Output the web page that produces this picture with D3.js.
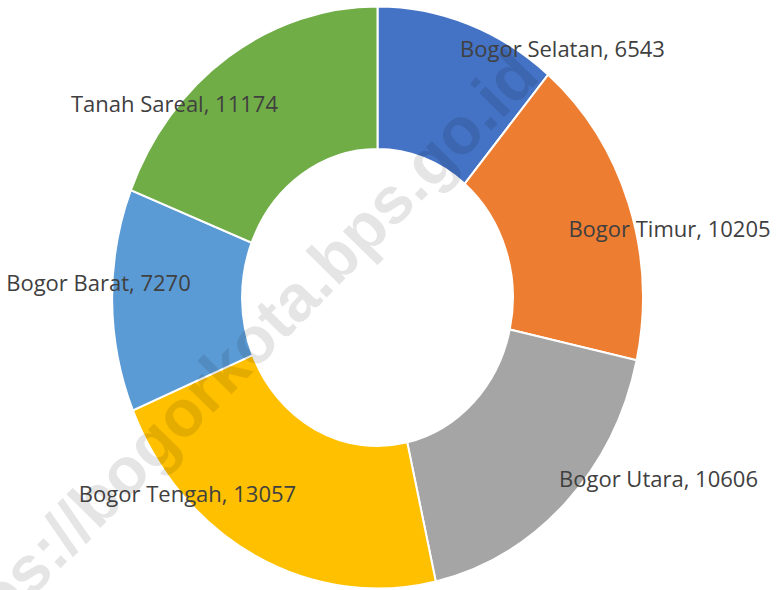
<!DOCTYPE html>
<html>
<head>
<meta charset="utf-8">
<script src="https://cdn.jsdelivr.net/npm/d3@7"></script>
<style>
  html, body { margin: 0; padding: 0; background: #fff; }
  svg { display: block; }
</style>
</head>
<body>
<div id="chart"></div>
<script>
// kecamatan di Kota Bogor, searah jarum jam dari atas
var districts = ['Bogor Selatan', 'Bogor Timur', 'Bogor Utara', 'Bogor Tengah', 'Bogor Barat', 'Tanah Sareal'];
var counts = [6543, 10205, 10606, 13057, 7270, 11174];
var colors = ['#4472C4', '#ED7D31', '#A5A5A5', '#FFC000', '#5B9BD5', '#70AD47'];

var w = 777;
var h = 590;
var cx = 377.5;
var cy = 297.5;
var rOuter = 291;
var rInner = 148.5;
var squeeze = 0.912; // the ring is a bit narrower than tall

// label spots, relative to the centre of the ring
var labelSpot = [[185, -241], [292, -61], [281, 189], [-190, 204], [-279, -7], [-203, -186]];

var svg = d3.select('#chart')
  .append('svg')
  .attr('width', w)
  .attr('height', h);

var pie = d3.pie().sort(null).value(function (d) { return d; });
var arc = d3.arc().innerRadius(rInner).outerRadius(rOuter);

var ring = svg.append('g')
  .attr('transform', 'translate(' + cx + ',' + cy + ') scale(' + squeeze + ',1)');

ring.selectAll('path.slice')
  .data(pie(counts)).enter()
  .append('path')
  .attr('class', 'slice')
  .attr('d', arc)
  .attr('fill', function (d, i) { return colors[i]; })
  .attr('stroke', '#fff')
  .attr('stroke-width', 2)
  .attr('vector-effect', 'non-scaling-stroke');

// watermark (runs off the bottom-left corner, as in the original)
svg.append('text')
  .attr('transform', 'translate(226,367) rotate(-45.5)')
  .attr('text-anchor', 'middle')
  .attr('dy', '0.35em')
  .style('font-family', '"Liberation Sans", Arial, sans-serif')
  .style('font-weight', 'bold')
  .style('font-size', '66px')
  .attr('fill', '#000')
  .attr('fill-opacity', 0.1)
  .text('https://bogorkota.bps.go.id');

svg.selectAll('text.label')
  .data(districts).enter()
  .append('text')
  .attr('class', 'label')
  .attr('x', function (d, i) { return cx + labelSpot[i][0]; })
  .attr('y', function (d, i) { return cy + labelSpot[i][1]; })
  .attr('text-anchor', 'middle')
  .style('font-family', '"Open Sans", sans-serif')
  .style('font-size', '22px')
  .attr('fill', '#404040')
  .text(function (d, i) { return d + ', ' + counts[i]; });
</script>
</body>
</html>
